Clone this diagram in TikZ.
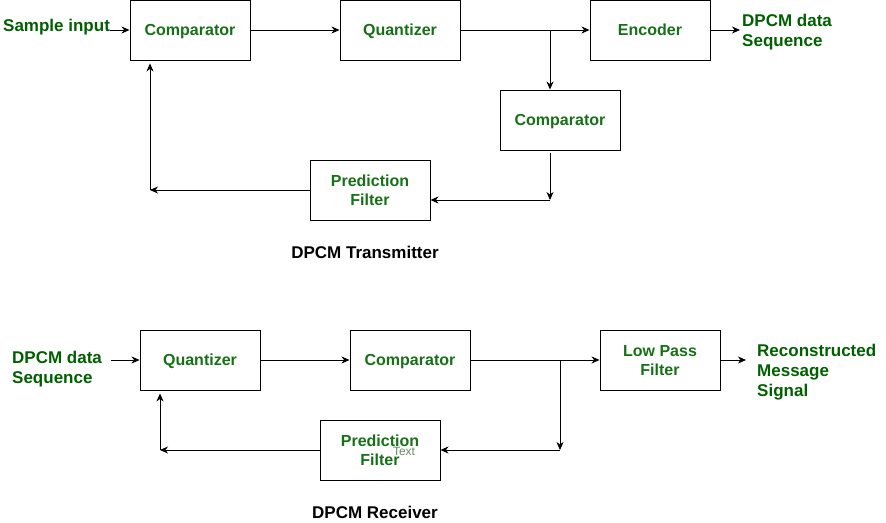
\documentclass[tikz,border=0pt]{standalone}
\usepackage{fontspec}
\setmainfont{Liberation Sans}
\usetikzlibrary{arrows.meta}
\usepackage{xcolor}
\definecolor{boxgreen}{RGB}{22,112,22}
\definecolor{lblgreen}{RGB}{0,96,0}
\definecolor{faint}{RGB}{100,140,100}

\begin{document}
\begin{tikzpicture}[x=1pt, y=-1pt,
  box/.style={draw, line width=0.9pt, minimum width=120pt, minimum height=60pt,
              inner sep=0pt, align=center, text=boxgreen, text depth=0pt,
              font=\fontsize{16}{19}\selectfont\bfseries},
  lbl/.style={inner sep=0pt, align=left, text=lblgreen,
              font=\fontsize{17}{20}\selectfont\bfseries},
  title/.style={inner sep=0pt, font=\fontsize{17}{20}\selectfont\bfseries},
  flow/.style={-{Stealth[length=8pt, width=7pt, inset=2.5pt]}, line width=0.9pt},
]
  \useasboundingbox (0,0) rectangle (886,522);

  % transmitter
  \node[lbl, anchor=west] (samp)  at (3,27)    {Sample input};
  \node[box]              (comp)  at (190,30)  {Comparator};
  \node[box]              (quant) at (400,30)  {Quantizer};
  \node[box]              (enc)   at (650,30)  {Encoder};
  \node[lbl, anchor=west] (seqout) at (742,32) {DPCM data\\Sequence};
  \node[box]              (compb) at (560,120) {Comparator};
  \node[box]              (pred)  at (370,190) {Prediction\\Filter};
  \node[title]            (ttx)   at (365,252) {DPCM Transmitter};

  \coordinate (br1) at (550,30);
  \coordinate (br2) at (550,200);
  \coordinate (fb1) at (150,190);

  \draw[flow] (samp.east |- comp.west) -- (comp.west);
  \draw[flow] (comp) -- (quant);
  \draw[flow] (quant) -- (enc);
  \draw[flow] (br1) -- (br1 |- compb.north);
  \draw[flow, shorten >=2pt] (enc.east) -- (seqout.west |- enc.east);
  \draw[flow, shorten <=3pt] (compb.south -| br2) -- (br2);
  \draw[flow] (br2) -- (pred.east |- br2);
  \draw[flow] (pred.west) -- (fb1);
  \draw[flow, shorten >=3pt] (fb1) -- (fb1 |- comp.south);

  % receiver
  \node[lbl, anchor=west] (seqin) at (12,369)  {DPCM data\\Sequence};
  \node[box]              (rquant) at (200,360) {Quantizer};
  \node[box]              (rcomp) at (410,360) {Comparator};
  \node[box]              (lpf)   at (660,360) {Low Pass\\Filter};
  \node[lbl, anchor=west] (recon) at (757,372) {Reconstructed\\Message\\Signal};
  \node[box]              (rpred) at (380,450) {Prediction\\Filter};
  \node[text=faint, inner sep=0pt, font=\fontsize{12}{14}\selectfont] (txt) at (404,451) {Text};
  \node[title]            (trx)   at (375,512) {DPCM Receiver};

  \coordinate (br3) at (560,360);
  \coordinate (br4) at (560,450);
  \coordinate (fb2) at (160,450);

  \draw[flow, shorten <=9pt] (seqin.east |- rquant.west) -- (rquant.west);
  \draw[flow] (rquant) -- (rcomp);
  \draw[flow] (rcomp) -- (lpf);
  \draw[flow, shorten >=11pt] (lpf.east) -- (recon.west |- lpf.east);
  \draw[flow] (br3) -- (br4);
  \draw[flow] (br4) -- (rpred.east);
  \draw[flow] (rpred.west) -- (fb2);
  \draw[flow, shorten >=3pt] (fb2) -- (fb2 |- rquant.south);
\end{tikzpicture}
\end{document}
